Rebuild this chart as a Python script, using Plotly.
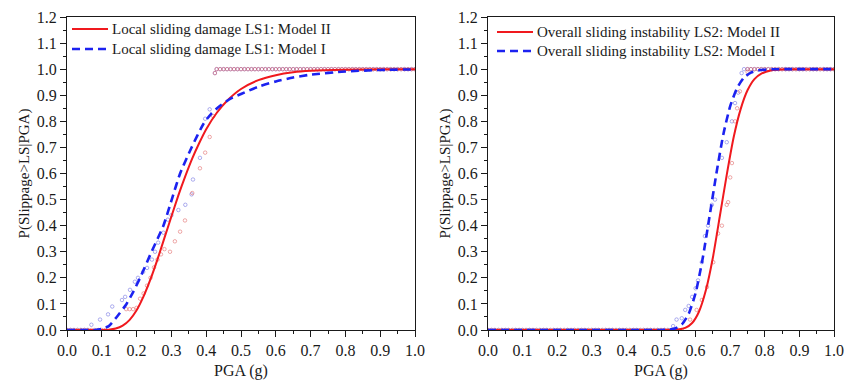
import plotly.graph_objects as go

# ---------------- data ----------------
PGA_GRID = [0.00, 0.01, 0.02, 0.03, 0.04, 0.05, 0.06, 0.07, 0.08, 0.09,
            0.10, 0.11, 0.12, 0.13, 0.14, 0.15, 0.16, 0.17, 0.18, 0.19,
            0.20, 0.21, 0.22, 0.23, 0.24, 0.25, 0.26, 0.27, 0.28, 0.29,
            0.30, 0.31, 0.32, 0.33, 0.34, 0.35, 0.36, 0.37, 0.38, 0.39,
            0.40, 0.41, 0.42, 0.43, 0.44, 0.45, 0.46, 0.47, 0.48, 0.49,
            0.50, 0.51, 0.52, 0.53, 0.54, 0.55, 0.56, 0.57, 0.58, 0.59,
            0.60, 0.61, 0.62, 0.63, 0.64, 0.65, 0.66, 0.67, 0.68, 0.69,
            0.70, 0.71, 0.72, 0.73, 0.74, 0.75, 0.76, 0.77, 0.78, 0.79,
            0.80, 0.81, 0.82, 0.83, 0.84, 0.85, 0.86, 0.87, 0.88, 0.89,
            0.90, 0.91, 0.92, 0.93, 0.94, 0.95, 0.96, 0.97, 0.98, 0.99, 1.00]

# Left panel (LS1) fitted curves
ls1_m2_x = [0.00, 0.10, 0.12, 0.14, 0.16, 0.18, 0.20, 0.22, 0.24, 0.26, 0.28, 0.30, 0.32,
            0.34, 0.36, 0.38, 0.40, 0.43, 0.46, 0.50, 0.55, 0.60, 0.65, 0.70, 0.80, 0.90, 1.00]
ls1_m2_y = [0.0, 0.0002, 0.0012, 0.0055, 0.0166, 0.039, 0.076, 0.129, 0.195, 0.271, 0.353, 0.435, 0.516,
            0.590, 0.658, 0.717, 0.770, 0.832, 0.879, 0.924, 0.958, 0.977, 0.988, 0.9935, 0.998, 0.9995, 0.9998]
ls1_m1_x = [0.00, 0.08, 0.10, 0.12, 0.143, 0.171, 0.19, 0.21, 0.243, 0.277, 0.301, 0.325, 0.358,
            0.392, 0.415, 0.44, 0.47, 0.50, 0.55, 0.60, 0.65, 0.70, 0.80, 0.90, 1.00]
ls1_m1_y = [0.0, 0.0, 0.004, 0.015, 0.05, 0.1, 0.145, 0.2, 0.3, 0.4, 0.5, 0.6, 0.7,
            0.79, 0.83, 0.86, 0.887, 0.905, 0.933, 0.953, 0.968, 0.979, 0.991, 0.997, 0.999]

# Right panel (LS2) fitted curves
ls2_m2_x = [0.00, 0.53, 0.55, 0.57, 0.59, 0.61, 0.63, 0.65, 0.67, 0.69, 0.71, 0.73, 0.75,
            0.77, 0.79, 0.82, 0.86, 0.90, 1.00]
ls2_m2_y = [0.0, 0.0, 0.0018, 0.008, 0.027, 0.071, 0.154, 0.278, 0.436, 0.595, 0.739, 0.846, 0.919,
            0.962, 0.983, 0.996, 0.9995, 1.0, 1.0]
ls2_m1_x = [0.00, 0.50, 0.52, 0.54, 0.56, 0.58, 0.60, 0.62, 0.64, 0.66, 0.68, 0.70, 0.72,
            0.74, 0.76, 0.78, 0.82, 0.86, 1.00]
ls2_m1_y = [0.0, 0.0, 0.0011, 0.0057, 0.021, 0.062, 0.142, 0.271, 0.433, 0.599, 0.749, 0.858, 0.928,
            0.968, 0.987, 0.995, 0.9995, 1.0, 1.0]

# Empirical points (open circles)
ls1_m1_pts_x = PGA_GRID[0:7] + [0.07, 0.095, 0.118, 0.13, 0.158, 0.167, 0.181, 0.195, 0.204, 0.219, 0.23,
                                0.244, 0.253, 0.262, 0.277, 0.29, 0.30, 0.32, 0.34, 0.358, 0.362, 0.382,
                                0.397, 0.41, 0.425] + PGA_GRID[43:101]
ls1_m1_pts_y = [0.0] * 7 + [0.02, 0.04, 0.06, 0.09, 0.115, 0.127, 0.154, 0.185, 0.2, 0.223, 0.238,
                            0.27, 0.3, 0.335, 0.373, 0.423, 0.44, 0.46, 0.48, 0.52, 0.577, 0.66,
                            0.81, 0.846, 0.985] + [1.0] * 58
ls1_m2_pts_x = PGA_GRID[0:12] + [0.17, 0.18, 0.19, 0.20, 0.21, 0.22, 0.23, 0.24, 0.25, 0.26, 0.27, 0.28,
                                 0.296, 0.31, 0.325, 0.339, 0.36, 0.382, 0.397, 0.41, 0.42, 0.425] + PGA_GRID[43:101]
ls1_m2_pts_y = [0.0] * 12 + [0.08, 0.08, 0.08, 0.085, 0.12, 0.14, 0.17, 0.2, 0.24, 0.27, 0.29, 0.31,
                             0.3, 0.34, 0.377, 0.42, 0.525, 0.62, 0.68, 0.74, 0.82, 0.985] + [1.0] * 58

ls2_m1_pts_x = PGA_GRID[0:53] + [0.535, 0.545, 0.56, 0.57, 0.58, 0.59, 0.60, 0.607, 0.618, 0.627, 0.636,
                                 0.647, 0.656, 0.676, 0.69, 0.705, 0.714, 0.723, 0.733] + PGA_GRID[74:101]
ls2_m1_pts_y = [0.0] * 53 + [0.015, 0.04, 0.045, 0.077, 0.092, 0.127, 0.16, 0.19, 0.26, 0.36, 0.4,
                             0.48, 0.5, 0.66, 0.72, 0.8, 0.87, 0.91, 0.985] + [1.0] * 27
ls2_m2_pts_x = PGA_GRID[0:57] + [0.584, 0.603, 0.618, 0.633, 0.651, 0.665, 0.676, 0.69, 0.694, 0.70,
                                 0.705, 0.714, 0.72, 0.728, 0.75] + PGA_GRID[75:101]
ls2_m2_pts_y = [0.0] * 57 + [0.04, 0.077, 0.115, 0.165, 0.26, 0.37, 0.4, 0.48, 0.49, 0.585,
                             0.64, 0.8, 0.85, 0.915, 0.99] + [1.0] * 26

X_TICKS = [0.0, 0.1, 0.2, 0.3, 0.4, 0.5, 0.6, 0.7, 0.8, 0.9, 1.0]
Y_TICKS = [0.0, 0.1, 0.2, 0.3, 0.4, 0.5, 0.6, 0.7, 0.8, 0.9, 1.0, 1.1, 1.2]

LEG_LS1 = ["Local sliding damage LS1: Model II", "Local sliding damage LS1: Model I"]
LEG_LS2 = ["Overall sliding instability LS2: Model II", "Overall sliding instability LS2: Model I"]

# ---------------- styling ----------------
RED = "#f0191e"
BLUE = "#1c22f0"
RED_PT = "rgba(225,100,100,0.7)"
BLUE_PT = "rgba(110,110,225,0.7)"
FONT = "Liberation Serif"
INK = "#1a1a1a"

fig = go.Figure()

def add_points(x, y, col, xa, ya):
    fig.add_trace(go.Scatter(x=x, y=y, mode="markers", xaxis=xa, yaxis=ya, showlegend=False,
                             marker=dict(symbol="circle-open", size=3.5, color=col, line=dict(width=0.8)),
                             hoverinfo="skip"))

add_points(ls1_m1_pts_x, ls1_m1_pts_y, BLUE_PT, "x", "y")
add_points(ls1_m2_pts_x, ls1_m2_pts_y, RED_PT, "x", "y")
add_points(ls2_m1_pts_x, ls2_m1_pts_y, BLUE_PT, "x2", "y2")
add_points(ls2_m2_pts_x, ls2_m2_pts_y, RED_PT, "x2", "y2")

RED_LINE = dict(color=RED, width=2, shape="spline", smoothing=0.6)
BLUE_LINE = dict(color=BLUE, width=2.6, dash="8px,5px", shape="spline", smoothing=0.6)

fig.add_trace(go.Scatter(x=ls1_m2_x, y=ls1_m2_y, mode="lines", name=LEG_LS1[0], showlegend=False,
                         line=RED_LINE, xaxis="x", yaxis="y"))
fig.add_trace(go.Scatter(x=ls1_m1_x, y=ls1_m1_y, mode="lines", name=LEG_LS1[1], showlegend=False,
                         line=BLUE_LINE, xaxis="x", yaxis="y"))
fig.add_trace(go.Scatter(x=ls2_m2_x, y=ls2_m2_y, mode="lines", name=LEG_LS2[0], showlegend=False,
                         line=RED_LINE, xaxis="x2", yaxis="y2"))
fig.add_trace(go.Scatter(x=ls2_m1_x, y=ls2_m1_y, mode="lines", name=LEG_LS2[1], showlegend=False,
                         line=BLUE_LINE, xaxis="x2", yaxis="y2"))

W, H = 845, 380

def xaxis(dom, anchor):
    return dict(domain=dom, anchor=anchor, range=[0, 1.0], tickvals=X_TICKS, automargin=False,
                ticktext=[f"{v:.1f}" for v in X_TICKS], ticks="outside", ticklen=6, tickwidth=1.2,
                tickcolor=INK, showline=True, linecolor=INK, linewidth=1.3, mirror=True,
                showgrid=False, zeroline=False,
                minor=dict(dtick=0.05, ticks="outside", ticklen=3, tickwidth=1, tickcolor=INK),
                tickfont=dict(family=FONT, size=16, color=INK),
                title=dict(text="PGA (g)", font=dict(family=FONT, size=16, color=INK), standoff=7))

def yaxis(dom, anchor):
    return dict(domain=dom, anchor=anchor, range=[0, 1.2], tickvals=Y_TICKS, automargin=False,
                ticktext=[f"{v:.1f}" for v in Y_TICKS], ticks="outside", ticklen=6, tickwidth=1.2,
                tickcolor=INK, showline=True, linecolor=INK, linewidth=1.3, mirror=True,
                showgrid=False, zeroline=False,
                minor=dict(dtick=0.05, ticks="outside", ticklen=3, tickwidth=1, tickcolor=INK),
                tickfont=dict(family=FONT, size=16, color=INK),
                title=dict(text="P(Slippage>LS|PGA)", font=dict(family=FONT, size=15, color=INK), standoff=3))

ydom = [50 / H, 363 / H]

# Manual legends (line sample + text), pixel positions
shapes = []
annotations = []
legend_rows = [
    (72, 108, 29, RED_LINE, LEG_LS1[0]),
    (72, 108, 49, BLUE_LINE, LEG_LS1[1]),
    (497, 533, 32, RED_LINE, LEG_LS2[0]),
    (497, 533, 51, BLUE_LINE, LEG_LS2[1]),
]
for x0, x1, yy, ln, label in legend_rows:
    shapes.append(dict(type="line", xref="paper", yref="paper", x0=x0 / W, x1=x1 / W,
                       y0=1 - yy / H, y1=1 - yy / H, line=dict(color=ln["color"], width=ln["width"],
                                                              dash=ln.get("dash", "solid"))))
    annotations.append(dict(xref="paper", yref="paper", x=(x1 + 2) / W, y=1 - yy / H,
                            xanchor="left", yanchor="middle", showarrow=False, text=label,
                            font=dict(family=FONT, size=15, color=INK)))

fig.update_layout(
    width=W, height=H, margin=dict(l=0, r=0, t=0, b=0),
    paper_bgcolor="white", plot_bgcolor="white", showlegend=False,
    xaxis=xaxis([67 / W, 415 / W], "y"),
    yaxis=yaxis(ydom, "x"),
    xaxis2=xaxis([488 / W, 834 / W], "y2"),
    yaxis2=yaxis(ydom, "x2"),
    shapes=shapes, annotations=annotations,
)

fig.write_html("out.html")
